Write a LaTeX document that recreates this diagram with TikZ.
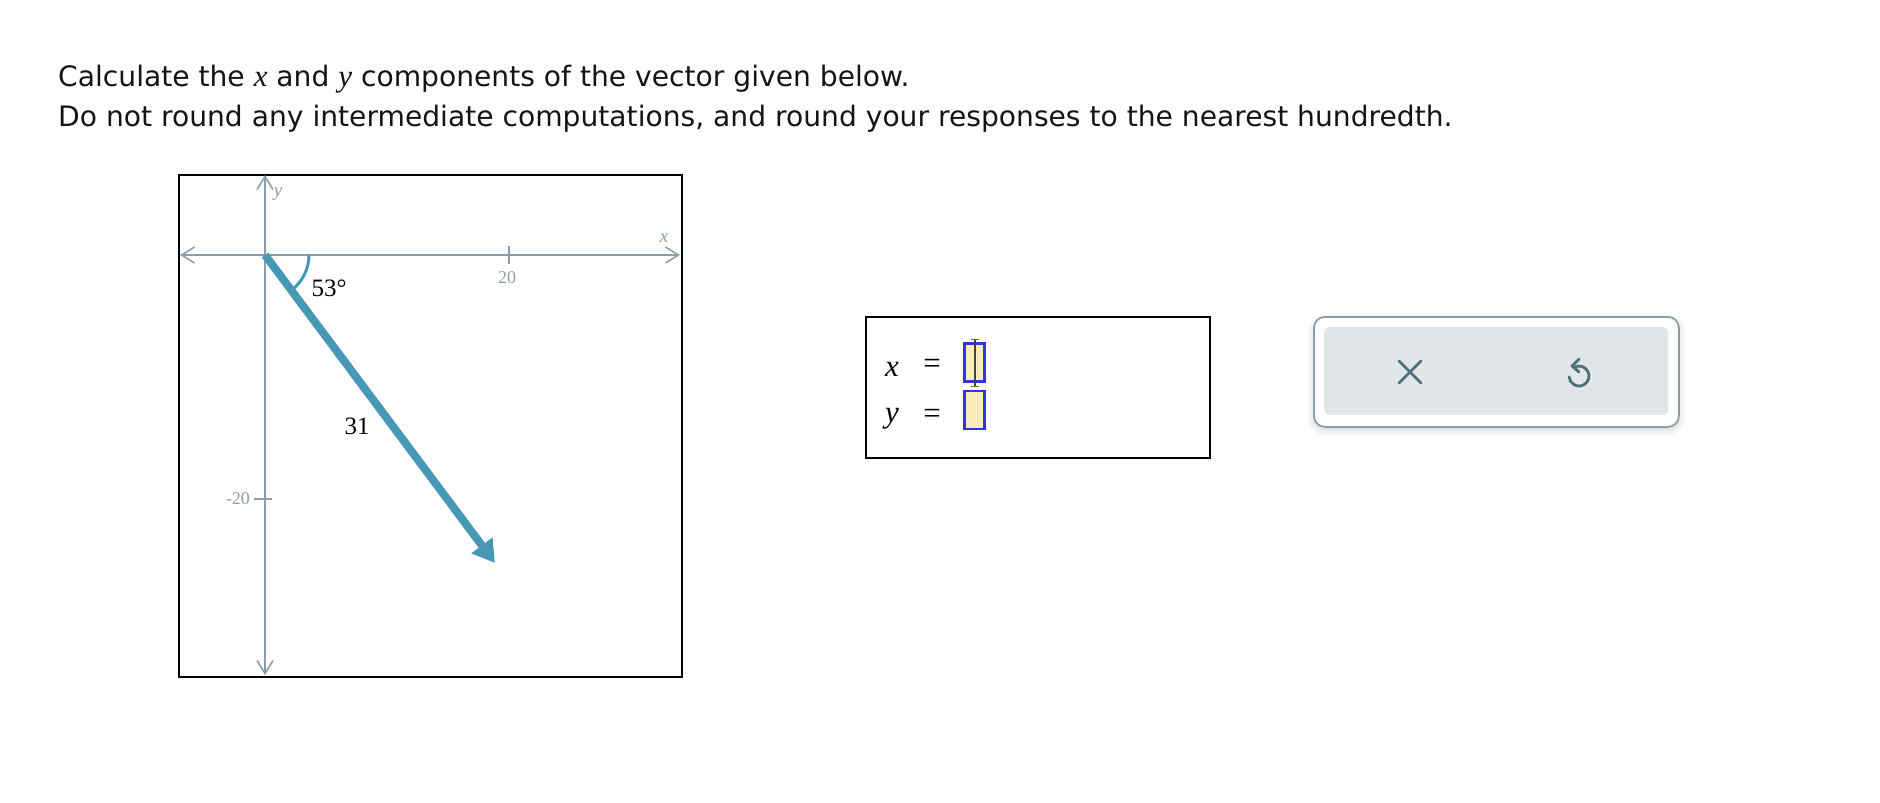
\documentclass[tikz,border=0pt]{standalone}
\usepackage{fontspec}
\setmainfont{DejaVu Sans}
\newfontfamily\tms{Liberation Serif}
\usetikzlibrary{arrows.meta,shadows.blur}
\definecolor{axisgray}{RGB}{138,159,171}
\definecolor{vecblue}{RGB}{70,152,180}
\definecolor{btnfill}{RGB}{225,230,233}
\definecolor{iconcol}{RGB}{79,111,124}
\definecolor{inpfill}{RGB}{249,237,181}
\definecolor{inpborder}{RGB}{50,50,235}
\definecolor{txt}{RGB}{20,20,20}
\tikzset{
  titletext/.style={anchor=base west,inner sep=0pt,text=txt,font=\fontsize{28.15}{32}\selectfont},
  axis/.style={draw=axisgray,line width=1.6pt,{Straight Barb[length=13pt,width=16pt,line width=1.6pt]}-{Straight Barb[length=13pt,width=16pt,line width=1.6pt]}},
  ticklbl/.style={text=axisgray,inner sep=0pt,font=\tms\fontsize{18}{18}\selectfont},
  axlbl/.style={text=axisgray,inner sep=0pt,font=\tms\itshape\fontsize{19}{19}\selectfont},
  glabel/.style={text=black,inner sep=0pt,font=\tms\fontsize{25}{25}\selectfont},
  eqtext/.style={text=black,inner sep=0pt,font=\tms\fontsize{31}{31}\selectfont},
  eqvar/.style={text=black,inner sep=0pt,font=\tms\itshape\fontsize{31}{31}\selectfont},
  inputbox/.style={draw=inpborder,fill=inpfill,line width=2.2pt,minimum width=20pt,minimum height=38pt,inner sep=0pt},
  icon/.style={draw=iconcol,line width=2.8pt,line cap=round}
}
\begin{document}
\begin{tikzpicture}[x=1pt,y=-1pt]
\useasboundingbox (0,0) rectangle (1880,803);
% title
\node[titletext] (l1) at (58,86) {Calculate the {\tms\itshape\fontsize{31}{32}\selectfont x} and {\tms\itshape\fontsize{31}{32}\selectfont y} components of the vector given below.};
\node[titletext] (l2) at (58,126) {Do not round any intermediate computations, and round your responses to the nearest hundredth.};
% graph frame
\node[draw=black,line width=1.8pt,minimum width=503pt,minimum height=502pt,inner sep=0pt,anchor=north west] (frame) at (178,174) {};
% axes
\coordinate (O) at (265,255);
\coordinate (xl) at (180,255);
\coordinate (xr) at (680,255);
\coordinate (yt) at (265,175);
\coordinate (yb) at (265,675);
\draw[axis] (xl) -- (xr);
\draw[axis] (yt) -- (yb);
\coordinate (tx) at (509,255);
\coordinate (ty) at (265,499);
\draw[axisgray,line width=1.6pt] ([yshift=-9pt]tx) -- ([yshift=9pt]tx);
\draw[axisgray,line width=1.6pt] ([xshift=-11pt]ty) -- ([xshift=7pt]ty);
\node[ticklbl] (t20) at (507,278) {20};
\node[ticklbl] (tm20) at (238,499) {-20};
\node[axlbl] (xlab) at (664,238) {x};
\node[axlbl] (ylab) at (278,194) {y};
% vector
\coordinate (T) at (495,563);
\draw[vecblue,line width=8pt,-{Triangle[length=22pt,width=25pt]}] (O) -- (T);
\draw[vecblue,line width=3pt] (O) ++(44,0) arc[start angle=0,end angle=-53.2,radius=44pt];
\node[glabel] (ang) at (329,288) {53°};
\node[glabel] (len) at (357,426) {31};
% answer box
\node[draw=black,line width=1.8pt,minimum width=344pt,minimum height=141pt,inner sep=0pt,anchor=north west] (ans) at (865,316) {};
\node[eqvar] (xs) at (892,369) {x};
\node[eqtext] (eq1) at (932,366) {=};
\node[inputbox] (in1) at (974.5,362.5) {};
\node[eqvar] (ys) at (892,419) {y};
\node[eqtext] (eq2) at (932,416) {=};
\node[inputbox] (in2) at (974.5,410) {};
% cursor
\coordinate (c1) at (975,339);
\coordinate (c2) at (975,386);
\draw[black!75,line width=1.6pt] (c1) -- (c2);
\draw[black!60,line width=1pt] ([xshift=-4pt]c1) -- ([xshift=4pt]c1);
\draw[black!60,line width=1pt] ([xshift=-4pt]c2) -- ([xshift=4pt]c2);
% buttons
\node[draw=axisgray,line width=1.8pt,rounded corners=11pt,fill=white,minimum width=365pt,minimum height=110pt,inner sep=0pt,anchor=north west,blur shadow={shadow xshift=0pt,shadow yshift=-3pt,shadow blur radius=7pt,shadow opacity=18}] (btn) at (1313,316) {};
\node[fill=btnfill,rounded corners=6pt,minimum width=344pt,minimum height=88pt,inner sep=0pt,anchor=north west] (btnin) at (1324,327) {};
\coordinate (xc) at (1410,372);
\draw[icon] ([shift={(-11,-11)}]xc) -- ([shift={(11,11)}]xc);
\draw[icon] ([shift={(-11,11)}]xc) -- ([shift={(11,-11)}]xc);
\coordinate (uc) at (1579,376);
\draw[icon] ([shift={(120:10pt)}]uc) arc[start angle=120,end angle=-175,radius=10pt];
\draw[icon,line join=round] ([shift={(0,-17)}]uc) -- ([shift={(-7,-10)}]uc) -- ([shift={(0,-4)}]uc);
\end{tikzpicture}
\end{document}
